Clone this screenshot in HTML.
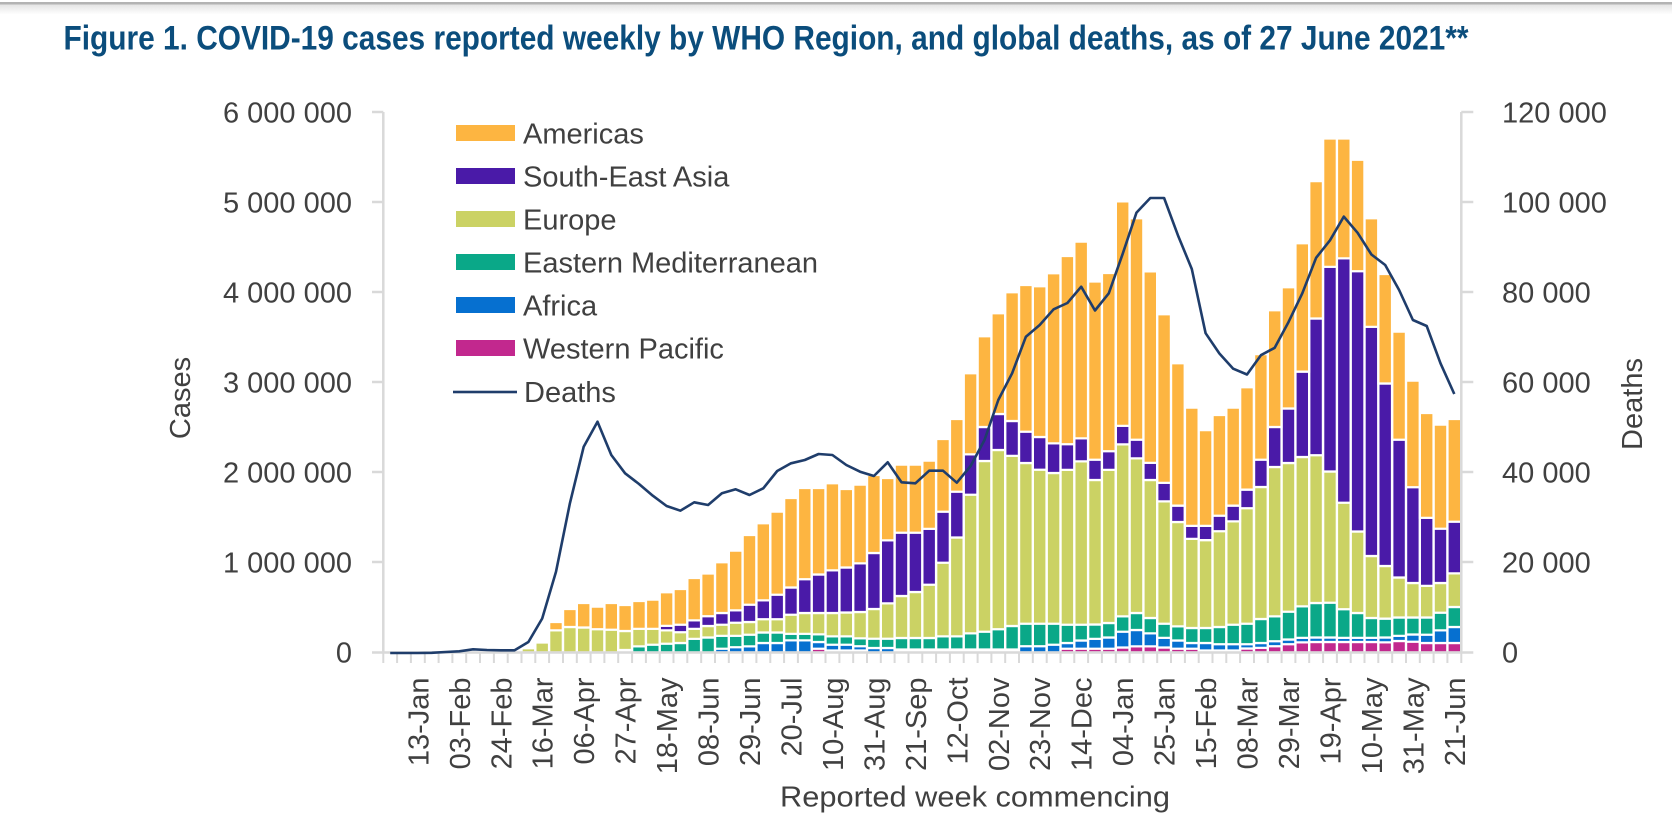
<!DOCTYPE html>
<html><head><meta charset="utf-8"><style>html,body{margin:0;padding:0;background:#fff}svg{display:block}</style></head>
<body>
<svg width="1672" height="822" viewBox="0 0 1672 822" xmlns="http://www.w3.org/2000/svg" font-family="'Liberation Sans', Arial, sans-serif">
<defs><linearGradient id="sh" x1="0" y1="0" x2="0" y2="1"><stop offset="0" stop-color="#e4e4e4"/><stop offset="1" stop-color="#ffffff"/></linearGradient></defs>
<rect width="1672" height="822" fill="#fff"/>
<rect x="0" y="4.5" width="1672" height="10" fill="url(#sh)"/>
<rect x="0" y="2" width="1672" height="2.5" fill="#b3b3b3"/>
<text x="63.5" y="49.5" font-size="34" font-weight="bold" fill="#0b4d7c" textLength="1405" lengthAdjust="spacingAndGlyphs">Figure 1. COVID-19 cases reported weekly by WHO Region, and global deaths, as of 27 June 2021**</text>

<g stroke="#fff" stroke-width="2.2">
<path fill="#c2288e" d="M811.8 648.7h13.6V652.5h-13.6zM1060.6 648.7h13.6V652.5h-13.6zM1074.4 648.7h13.6V652.5h-13.6zM1088.2 648.7h13.6V652.5h-13.6zM1102 648.7h13.6V652.5h-13.6zM1115.9 647.5h13.6V652.5h-13.6zM1129.7 646.3h13.6V652.5h-13.6zM1143.5 646.3h13.6V652.5h-13.6zM1157.3 647.5h13.6V652.5h-13.6zM1171.1 648.7h13.6V652.5h-13.6zM1185 648.7h13.6V652.5h-13.6zM1240.2 648.5h13.6V652.5h-13.6zM1254.1 647.8h13.6V652.5h-13.6zM1267.9 646.2h13.6V652.5h-13.6zM1281.7 644.2h13.6V652.5h-13.6zM1295.5 642.4h13.6V652.5h-13.6zM1309.3 642h13.6V652.5h-13.6zM1323.2 642h13.6V652.5h-13.6zM1337 642h13.6V652.5h-13.6zM1350.8 642h13.6V652.5h-13.6zM1364.6 642h13.6V652.5h-13.6zM1378.4 642.3h13.6V652.5h-13.6zM1392.3 641h13.6V652.5h-13.6zM1406.1 641.7h13.6V652.5h-13.6zM1419.9 643h13.6V652.5h-13.6zM1433.7 643h13.6V652.5h-13.6zM1447.5 643h13.6V652.5h-13.6z"/>
<path fill="#0670d0" d="M715.1 648.7h13.6V652.5h-13.6zM728.9 647.2h13.6V652.5h-13.6zM742.7 646.3h13.6V652.5h-13.6zM756.5 643h13.6V652.5h-13.6zM770.4 643h13.6V652.5h-13.6zM784.2 640.3h13.6V652.5h-13.6zM798 640.3h13.6V652.5h-13.6zM811.8 642h13.6V648.7h-13.6zM825.6 644.7h13.6V650.5h-13.6zM839.5 644.7h13.6V650.5h-13.6zM853.3 646.2h13.6V650.5h-13.6zM867.1 648h13.6V652.5h-13.6zM880.9 648h13.6V652.5h-13.6zM1019.1 646.2h13.6V652.5h-13.6zM1032.9 646.2h13.6V652.5h-13.6zM1046.8 644.7h13.6V652.5h-13.6zM1060.6 643h13.6V648.7h-13.6zM1074.4 640.5h13.6V648.7h-13.6zM1088.2 638.8h13.6V648.7h-13.6zM1102 637.5h13.6V648.7h-13.6zM1115.9 631.7h13.6V647.5h-13.6zM1129.7 630h13.6V646.3h-13.6zM1143.5 633.3h13.6V646.3h-13.6zM1157.3 637.8h13.6V647.5h-13.6zM1171.1 640.5h13.6V648.7h-13.6zM1185 643h13.6V648.7h-13.6zM1198.8 643h13.6V650.5h-13.6zM1212.6 644.2h13.6V650.5h-13.6zM1226.4 644.2h13.6V650.5h-13.6zM1240.2 644.2h13.6V648.5h-13.6zM1254.1 643h13.6V647.8h-13.6zM1267.9 641.2h13.6V646.2h-13.6zM1281.7 639.5h13.6V644.2h-13.6zM1295.5 637.8h13.6V642.4h-13.6zM1309.3 637.5h13.6V642h-13.6zM1323.2 637.5h13.6V642h-13.6zM1337 637.8h13.6V642h-13.6zM1350.8 637.8h13.6V642h-13.6zM1364.6 637.8h13.6V642h-13.6zM1378.4 637.5h13.6V642.3h-13.6zM1392.3 635.8h13.6V641h-13.6zM1406.1 634.5h13.6V641.7h-13.6zM1419.9 634.7h13.6V643h-13.6zM1433.7 630.3h13.6V643h-13.6zM1447.5 627h13.6V643h-13.6z"/>
<path fill="#0aa888" d="M632.2 646.3h13.6V652.5h-13.6zM646 644.7h13.6V652.5h-13.6zM659.8 643.7h13.6V652.5h-13.6zM673.6 643h13.6V652.5h-13.6zM687.4 638.8h13.6V652.5h-13.6zM701.3 637.5h13.6V652.5h-13.6zM715.1 635.8h13.6V648.7h-13.6zM728.9 635.8h13.6V647.2h-13.6zM742.7 634.7h13.6V646.3h-13.6zM756.5 632.5h13.6V643h-13.6zM770.4 632.5h13.6V643h-13.6zM784.2 633.8h13.6V640.3h-13.6zM798 633.8h13.6V640.3h-13.6zM811.8 634.3h13.6V642h-13.6zM825.6 636.3h13.6V644.7h-13.6zM839.5 636.3h13.6V644.7h-13.6zM853.3 638.3h13.6V646.2h-13.6zM867.1 638.7h13.6V648h-13.6zM880.9 638.7h13.6V648h-13.6zM894.7 638h13.6V649.5h-13.6zM908.6 638h13.6V649.5h-13.6zM922.4 638h13.6V649.5h-13.6zM936.2 636.3h13.6V649.5h-13.6zM950 636.3h13.6V649.5h-13.6zM963.8 633.3h13.6V649.5h-13.6zM977.7 631.7h13.6V649.5h-13.6zM991.5 629.2h13.6V649.5h-13.6zM1005.3 626h13.6V649.5h-13.6zM1019.1 623.7h13.6V646.2h-13.6zM1032.9 623.7h13.6V646.2h-13.6zM1046.8 623.7h13.6V644.7h-13.6zM1060.6 624.7h13.6V643h-13.6zM1074.4 624.7h13.6V640.5h-13.6zM1088.2 624.5h13.6V638.8h-13.6zM1102 623h13.6V637.5h-13.6zM1115.9 616.3h13.6V631.7h-13.6zM1129.7 613h13.6V630h-13.6zM1143.5 618h13.6V633.3h-13.6zM1157.3 623.7h13.6V637.8h-13.6zM1171.1 626.3h13.6V640.5h-13.6zM1185 628h13.6V643h-13.6zM1198.8 628h13.6V643h-13.6zM1212.6 627h13.6V644.2h-13.6zM1226.4 624.7h13.6V644.2h-13.6zM1240.2 623.7h13.6V644.2h-13.6zM1254.1 619h13.6V643h-13.6zM1267.9 616.3h13.6V641.2h-13.6zM1281.7 611.7h13.6V639.5h-13.6zM1295.5 606.3h13.6V637.8h-13.6zM1309.3 603h13.6V637.5h-13.6zM1323.2 602.7h13.6V637.5h-13.6zM1337 609.2h13.6V637.8h-13.6zM1350.8 613h13.6V637.8h-13.6zM1364.6 618h13.6V637.8h-13.6zM1378.4 618.6h13.6V637.5h-13.6zM1392.3 617.5h13.6V635.8h-13.6zM1406.1 617.5h13.6V634.5h-13.6zM1419.9 617.5h13.6V634.7h-13.6zM1433.7 612.7h13.6V630.3h-13.6zM1447.5 607h13.6V627h-13.6z"/>
<path fill="#cbd264" d="M521.6 648.3h13.6V652.5h-13.6zM535.4 642.5h13.6V652.5h-13.6zM549.2 630.3h13.6V652.5h-13.6zM563.1 627h13.6V652.5h-13.6zM576.9 627.5h13.6V652.5h-13.6zM590.7 629.2h13.6V652.5h-13.6zM604.5 629.7h13.6V652.5h-13.6zM618.3 631h13.6V650h-13.6zM632.2 628.8h13.6V646.3h-13.6zM646 628.8h13.6V644.7h-13.6zM659.8 630.3h13.6V643.7h-13.6zM673.6 632.2h13.6V643h-13.6zM687.4 628.8h13.6V638.8h-13.6zM701.3 626h13.6V637.5h-13.6zM715.1 624.7h13.6V635.8h-13.6zM728.9 622.7h13.6V635.8h-13.6zM742.7 622h13.6V634.7h-13.6zM756.5 619.2h13.6V632.5h-13.6zM770.4 619.2h13.6V632.5h-13.6zM784.2 614.7h13.6V633.8h-13.6zM798 613h13.6V633.8h-13.6zM811.8 613h13.6V634.3h-13.6zM825.6 613h13.6V636.3h-13.6zM839.5 612.5h13.6V636.3h-13.6zM853.3 612h13.6V638.3h-13.6zM867.1 609h13.6V638.7h-13.6zM880.9 603.3h13.6V638.7h-13.6zM894.7 596h13.6V638h-13.6zM908.6 592h13.6V638h-13.6zM922.4 584.7h13.6V638h-13.6zM936.2 562.7h13.6V636.3h-13.6zM950 537.5h13.6V636.3h-13.6zM963.8 494.7h13.6V633.3h-13.6zM977.7 461h13.6V631.7h-13.6zM991.5 450h13.6V629.2h-13.6zM1005.3 455.8h13.6V626h-13.6zM1019.1 463h13.6V623.7h-13.6zM1032.9 469.7h13.6V623.7h-13.6zM1046.8 473h13.6V623.7h-13.6zM1060.6 469.8h13.6V624.7h-13.6zM1074.4 461.3h13.6V624.7h-13.6zM1088.2 480h13.6V624.5h-13.6zM1102 469.8h13.6V623h-13.6zM1115.9 444.4h13.6V616.3h-13.6zM1129.7 458.3h13.6V613h-13.6zM1143.5 480h13.6V618h-13.6zM1157.3 501.4h13.6V623.7h-13.6zM1171.1 522h13.6V626.3h-13.6zM1185 538.9h13.6V628h-13.6zM1198.8 540.1h13.6V628h-13.6zM1212.6 531.2h13.6V627h-13.6zM1226.4 521.3h13.6V624.7h-13.6zM1240.2 508.2h13.6V623.7h-13.6zM1254.1 487h13.6V619h-13.6zM1267.9 467h13.6V616.3h-13.6zM1281.7 463h13.6V611.7h-13.6zM1295.5 457h13.6V606.3h-13.6zM1309.3 455.2h13.6V603h-13.6zM1323.2 471.5h13.6V602.7h-13.6zM1337 502.7h13.6V609.2h-13.6zM1350.8 531.5h13.6V613h-13.6zM1364.6 556h13.6V618h-13.6zM1378.4 566h13.6V618.6h-13.6zM1392.3 577.5h13.6V617.5h-13.6zM1406.1 583h13.6V617.5h-13.6zM1419.9 585.8h13.6V617.5h-13.6zM1433.7 583h13.6V612.7h-13.6zM1447.5 573.3h13.6V607h-13.6z"/>
<path fill="#4a1aa8" d="M659.8 625.8h13.6V630.3h-13.6zM673.6 624.7h13.6V632.2h-13.6zM687.4 620.3h13.6V628.8h-13.6zM701.3 616.2h13.6V626h-13.6zM715.1 613h13.6V624.7h-13.6zM728.9 610.3h13.6V622.7h-13.6zM742.7 604.7h13.6V622h-13.6zM756.5 600.3h13.6V619.2h-13.6zM770.4 594.7h13.6V619.2h-13.6zM784.2 587.5h13.6V614.7h-13.6zM798 579.2h13.6V613h-13.6zM811.8 574.5h13.6V613h-13.6zM825.6 570.3h13.6V613h-13.6zM839.5 567.5h13.6V612.5h-13.6zM853.3 563.3h13.6V612h-13.6zM867.1 553h13.6V609h-13.6zM880.9 540.3h13.6V603.3h-13.6zM894.7 532.7h13.6V596h-13.6zM908.6 532.7h13.6V592h-13.6zM922.4 528.8h13.6V584.7h-13.6zM936.2 511.7h13.6V562.7h-13.6zM950 491.7h13.6V537.5h-13.6zM963.8 454.3h13.6V494.7h-13.6zM977.7 427h13.6V461h-13.6zM991.5 414h13.6V450h-13.6zM1005.3 421h13.6V455.8h-13.6zM1019.1 431.7h13.6V463h-13.6zM1032.9 437h13.6V469.7h-13.6zM1046.8 443.3h13.6V473h-13.6zM1060.6 444.2h13.6V469.8h-13.6zM1074.4 438.3h13.6V461.3h-13.6zM1088.2 459.7h13.6V480h-13.6zM1102 451.2h13.6V469.8h-13.6zM1115.9 425.8h13.6V444.4h-13.6zM1129.7 439.7h13.6V458.3h-13.6zM1143.5 462.8h13.6V480h-13.6zM1157.3 482.8h13.6V501.4h-13.6zM1171.1 505.6h13.6V522h-13.6zM1185 525.9h13.6V538.9h-13.6zM1198.8 525.9h13.6V540.1h-13.6zM1212.6 515.7h13.6V531.2h-13.6zM1226.4 505.6h13.6V521.3h-13.6zM1240.2 489.6h13.6V508.2h-13.6zM1254.1 459.7h13.6V487h-13.6zM1267.9 427h13.6V467h-13.6zM1281.7 408.5h13.6V463h-13.6zM1295.5 371.6h13.6V457h-13.6zM1309.3 318.5h13.6V455.2h-13.6zM1323.2 266.8h13.6V471.5h-13.6zM1337 258.3h13.6V502.7h-13.6zM1350.8 271.2h13.6V531.5h-13.6zM1364.6 326.8h13.6V556h-13.6zM1378.4 383.5h13.6V566h-13.6zM1392.3 439.7h13.6V577.5h-13.6zM1406.1 487.2h13.6V583h-13.6zM1419.9 517.8h13.6V585.8h-13.6zM1433.7 528.7h13.6V583h-13.6zM1447.5 521.7h13.6V573.3h-13.6z"/>
<path fill="#fdb541" d="M549.2 622h13.6V630.3h-13.6zM563.1 609h13.6V627h-13.6zM576.9 603h13.6V627.5h-13.6zM590.7 606.7h13.6V629.2h-13.6zM604.5 603h13.6V629.7h-13.6zM618.3 605h13.6V631h-13.6zM632.2 601h13.6V628.8h-13.6zM646 599.7h13.6V628.8h-13.6zM659.8 592.3h13.6V625.8h-13.6zM673.6 589h13.6V624.7h-13.6zM687.4 578h13.6V620.3h-13.6zM701.3 573.5h13.6V616.2h-13.6zM715.1 562.3h13.6V613h-13.6zM728.9 550.7h13.6V610.3h-13.6zM742.7 535h13.6V604.7h-13.6zM756.5 523.3h13.6V600.3h-13.6zM770.4 511.7h13.6V594.7h-13.6zM784.2 498h13.6V587.5h-13.6zM798 488h13.6V579.2h-13.6zM811.8 488h13.6V574.5h-13.6zM825.6 483.3h13.6V570.3h-13.6zM839.5 489h13.6V567.5h-13.6zM853.3 484.7h13.6V563.3h-13.6zM867.1 475h13.6V553h-13.6zM880.9 478h13.6V540.3h-13.6zM894.7 464.7h13.6V532.7h-13.6zM908.6 464.7h13.6V532.7h-13.6zM922.4 460.7h13.6V528.8h-13.6zM936.2 439h13.6V511.7h-13.6zM950 419h13.6V491.7h-13.6zM963.8 373.3h13.6V454.3h-13.6zM977.7 336.3h13.6V427h-13.6zM991.5 313.3h13.6V414h-13.6zM1005.3 292.3h13.6V421h-13.6zM1019.1 285h13.6V431.7h-13.6zM1032.9 286.3h13.6V437h-13.6zM1046.8 273.3h13.6V443.3h-13.6zM1060.6 256h13.6V444.2h-13.6zM1074.4 241.6h13.6V438.3h-13.6zM1088.2 281.5h13.6V459.7h-13.6zM1102 273h13.6V451.2h-13.6zM1115.9 201.4h13.6V425.8h-13.6zM1129.7 218.3h13.6V439.7h-13.6zM1143.5 271.4h13.6V462.8h-13.6zM1157.3 314.3h13.6V482.8h-13.6zM1171.1 363.3h13.6V505.6h-13.6zM1185 407.6h13.6V525.9h-13.6zM1198.8 430.2h13.6V525.9h-13.6zM1212.6 415h13.6V515.7h-13.6zM1226.4 407.6h13.6V505.6h-13.6zM1240.2 387.3h13.6V489.6h-13.6zM1254.1 354.2h13.6V459.7h-13.6zM1267.9 310.3h13.6V427h-13.6zM1281.7 287.3h13.6V408.5h-13.6zM1295.5 243.3h13.6V371.6h-13.6zM1309.3 181.1h13.6V318.5h-13.6zM1323.2 138.5h13.6V266.8h-13.6zM1337 138.5h13.6V258.3h-13.6zM1350.8 159.8h13.6V271.2h-13.6zM1364.6 218.3h13.6V326.8h-13.6zM1378.4 274h13.6V383.5h-13.6zM1392.3 331.7h13.6V439.7h-13.6zM1406.1 380.7h13.6V487.2h-13.6zM1419.9 413h13.6V517.8h-13.6zM1433.7 424.7h13.6V528.7h-13.6zM1447.5 419h13.6V521.7h-13.6z"/>
</g>

<!-- axes -->
<g stroke="#d9d9d9" stroke-width="2.5" fill="none">
<path d="M383.3 112V652.5H1461.3V112"/>
<path d="M372 112h11.3M372 202h11.3M372 292h11.3M372 382h11.3M372 472h11.3M372 562h11.3M372 652.5h11.3"/>
<path d="M1461.3 112h12M1461.3 202h12M1461.3 292h12M1461.3 382h12M1461.3 472h12M1461.3 562h12M1461.3 652.5h12"/>
<path stroke-width="2" d="M383.3 652.5v10.5M397.1 652.5v10.5M410.9 652.5v10.5M424.8 652.5v10.5M438.6 652.5v10.5M452.4 652.5v10.5M466.2 652.5v10.5M480 652.5v10.5M493.9 652.5v10.5M507.7 652.5v10.5M521.5 652.5v10.5M535.3 652.5v10.5M549.1 652.5v10.5M563 652.5v10.5M576.8 652.5v10.5M590.6 652.5v10.5M604.4 652.5v10.5M618.2 652.5v10.5M632.1 652.5v10.5M645.9 652.5v10.5M659.7 652.5v10.5M673.5 652.5v10.5M687.3 652.5v10.5M701.2 652.5v10.5M715 652.5v10.5M728.8 652.5v10.5M742.6 652.5v10.5M756.4 652.5v10.5M770.3 652.5v10.5M784.1 652.5v10.5M797.9 652.5v10.5M811.7 652.5v10.5M825.5 652.5v10.5M839.4 652.5v10.5M853.2 652.5v10.5M867 652.5v10.5M880.8 652.5v10.5M894.6 652.5v10.5M908.5 652.5v10.5M922.3 652.5v10.5M936.1 652.5v10.5M949.9 652.5v10.5M963.7 652.5v10.5M977.6 652.5v10.5M991.4 652.5v10.5M1005.2 652.5v10.5M1019 652.5v10.5M1032.8 652.5v10.5M1046.7 652.5v10.5M1060.5 652.5v10.5M1074.3 652.5v10.5M1088.1 652.5v10.5M1101.9 652.5v10.5M1115.8 652.5v10.5M1129.6 652.5v10.5M1143.4 652.5v10.5M1157.2 652.5v10.5M1171 652.5v10.5M1184.9 652.5v10.5M1198.7 652.5v10.5M1212.5 652.5v10.5M1226.3 652.5v10.5M1240.1 652.5v10.5M1254 652.5v10.5M1267.8 652.5v10.5M1281.6 652.5v10.5M1295.4 652.5v10.5M1309.2 652.5v10.5M1323.1 652.5v10.5M1336.9 652.5v10.5M1350.7 652.5v10.5M1364.5 652.5v10.5M1378.3 652.5v10.5M1392.2 652.5v10.5M1406 652.5v10.5M1419.8 652.5v10.5M1433.6 652.5v10.5M1447.4 652.5v10.5M1461.3 652.5v10.5"/>
</g>

<!-- deaths line -->
<polyline fill="none" stroke="#1f3d6b" stroke-width="2.6" stroke-linejoin="round" points="390.2,653 404,653 417.8,653 431.7,652.8 445.5,652 459.3,651.3 473.1,649.3 486.9,650 500.8,650.3 514.6,650.3 528.4,642 542.2,618.5 556,571.7 569.9,503.3 583.7,446.7 597.5,421.7 611.3,455 625.1,473.3 639,484 652.8,495.7 666.6,506 680.4,510.7 694.2,502.3 708.1,505 721.9,493.3 735.7,489.3 749.5,495 763.3,488.3 777.2,471 791,463.3 804.8,460 818.6,454 832.4,455 846.3,465 860.1,471.7 873.9,476 887.7,462.3 901.5,482.3 915.4,483.3 929.2,470.7 943,470.7 956.8,482.7 970.6,466 984.5,440 998.3,400 1012.1,373.3 1025.9,336.7 1039.7,325 1053.6,309.3 1067.4,303 1081.2,286.7 1095,310.5 1108.8,293.3 1122.7,253.8 1136.5,212.6 1150.3,198 1164.1,198 1177.9,235.2 1191.8,269 1205.6,333.2 1219.4,353.5 1233.2,368.7 1247,374.5 1260.9,355.2 1274.7,347.8 1288.5,322.1 1302.3,293.3 1316.1,257.8 1330,240.3 1343.8,216.6 1357.6,232.8 1371.4,254.5 1385.2,265 1399.1,290 1412.9,320 1426.7,326 1440.5,363.3 1454.3,394"/>

<!-- y axis labels -->
<g font-size="29" fill="#404040" text-anchor="end">
<text x="352" y="122.4">6 000 000</text>
<text x="352" y="212.4">5 000 000</text>
<text x="352" y="302.4">4 000 000</text>
<text x="352" y="392.4">3 000 000</text>
<text x="352" y="482.4">2 000 000</text>
<text x="352" y="572.4">1 000 000</text>
<text x="352" y="662.4">0</text>
</g>
<g font-size="29" fill="#404040">
<text x="1502" y="122.4">120 000</text>
<text x="1502" y="212.4">100 000</text>
<text x="1502" y="302.4">80 000</text>
<text x="1502" y="392.4">60 000</text>
<text x="1502" y="482.4">40 000</text>
<text x="1502" y="572.4">20 000</text>
<text x="1502" y="662.4">0</text>
</g>

<!-- x axis labels -->
<g font-size="29" fill="#404040" text-anchor="end">
<text transform="translate(428.3,677.5) rotate(-90)">13-Jan</text>
<text transform="translate(469.8,677.5) rotate(-90)">03-Feb</text>
<text transform="translate(511.3,677.5) rotate(-90)">24-Feb</text>
<text transform="translate(552.7,677.5) rotate(-90)">16-Mar</text>
<text transform="translate(594.2,677.5) rotate(-90)">06-Apr</text>
<text transform="translate(635.6,677.5) rotate(-90)">27-Apr</text>
<text transform="translate(677.1,677.5) rotate(-90)">18-May</text>
<text transform="translate(718.6,677.5) rotate(-90)">08-Jun</text>
<text transform="translate(760,677.5) rotate(-90)">29-Jun</text>
<text transform="translate(801.5,677.5) rotate(-90)">20-Jul</text>
<text transform="translate(842.9,677.5) rotate(-90)">10-Aug</text>
<text transform="translate(884.4,677.5) rotate(-90)">31-Aug</text>
<text transform="translate(925.9,677.5) rotate(-90)">21-Sep</text>
<text transform="translate(967.3,677.5) rotate(-90)">12-Oct</text>
<text transform="translate(1008.8,677.5) rotate(-90)">02-Nov</text>
<text transform="translate(1050.2,677.5) rotate(-90)">23-Nov</text>
<text transform="translate(1091.7,677.5) rotate(-90)">14-Dec</text>
<text transform="translate(1133.2,677.5) rotate(-90)">04-Jan</text>
<text transform="translate(1174.6,677.5) rotate(-90)">25-Jan</text>
<text transform="translate(1216.1,677.5) rotate(-90)">15-Feb</text>
<text transform="translate(1257.5,677.5) rotate(-90)">08-Mar</text>
<text transform="translate(1299,677.5) rotate(-90)">29-Mar</text>
<text transform="translate(1340.5,677.5) rotate(-90)">19-Apr</text>
<text transform="translate(1381.9,677.5) rotate(-90)">10-May</text>
<text transform="translate(1423.4,677.5) rotate(-90)">31-May</text>
<text transform="translate(1464.8,677.5) rotate(-90)">21-Jun</text>
</g>

<!-- axis titles -->
<g font-size="29" fill="#404040">
<text x="780" y="806.5" textLength="390" lengthAdjust="spacingAndGlyphs">Reported week commencing</text>
<text transform="translate(190,398) rotate(-90)" text-anchor="middle">Cases</text>
<text transform="translate(1642,404) rotate(-90)" text-anchor="middle">Deaths</text>
</g>

<!-- legend -->
<rect x="456" y="125" width="59" height="16" fill="#fdb541"/>
<rect x="456" y="168" width="59" height="16" fill="#4a1aa8"/>
<rect x="456" y="211" width="59" height="16" fill="#cbd264"/>
<rect x="456" y="254" width="59" height="16" fill="#0aa888"/>
<rect x="456" y="297" width="59" height="16" fill="#0670d0"/>
<rect x="456" y="340" width="59" height="16" fill="#c2288e"/>
<rect x="453" y="390.7" width="64" height="2.6" fill="#1f3d6b"/>
<g font-size="29" fill="#404040">
<text x="523" y="143.4">Americas</text>
<text x="523" y="186.4">South-East Asia</text>
<text x="523" y="229.4">Europe</text>
<text x="523" y="272.4">Eastern Mediterranean</text>
<text x="523" y="315.4">Africa</text>
<text x="523" y="358.4">Western Pacific</text>
<text x="524" y="402">Deaths</text>
</g>
</svg>
</body></html>
